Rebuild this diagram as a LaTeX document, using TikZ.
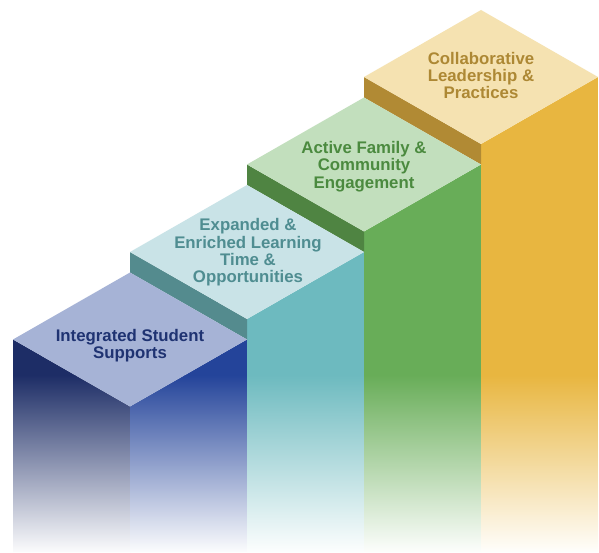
\documentclass[tikz,border=0pt]{standalone}
\usepackage{fontspec}
\setmainfont{Liberation Sans}
\begin{document}
\begin{tikzpicture}[x=1pt,y=-1pt,
  steplabel/.style={align=center,font=\bfseries\fontsize{16.8}{17.4}\selectfont,inner sep=0pt}]
% colours
\definecolor{bluetop}{HTML}{A6B3D6}
\definecolor{blueleft}{HTML}{1D2D66}
\definecolor{blueright}{HTML}{24449A}
\definecolor{bluetext}{HTML}{1F3372}
\definecolor{tealtop}{HTML}{C9E3E7}
\definecolor{tealside}{HTML}{548B8E}
\definecolor{tealright}{HTML}{6DBABF}
\definecolor{tealtext}{HTML}{4F8D91}
\definecolor{greentop}{HTML}{C2DFBD}
\definecolor{greenside}{HTML}{4F8442}
\definecolor{greenright}{HTML}{68AD58}
\definecolor{greentext}{HTML}{4B8A3F}
\definecolor{goldtop}{HTML}{F5E2B1}
\definecolor{goldside}{HTML}{B18A34}
\definecolor{goldright}{HTML}{E8B640}
\definecolor{goldtext}{HTML}{AD8834}
% a column face: solid colour on top, fading to white towards the bottom
\newcommand\fadeface[2]{%
  \begin{scope}
    \clip #2;
    \fill[#1] (0,0) rectangle (599,376);
    \shade[top color=#1,bottom color=white] (0,375) rectangle (599,555);
  \end{scope}}
\useasboundingbox (0,0) rectangle (599,553);
\fill[white] (0,0) rectangle (599,553);
% front faces of the columns
\fadeface{blueleft}{(13,339.5) -- (130,406.5) -- (130,552) -- (13,552) -- cycle}
\fadeface{blueright}{(130,406.5) -- (247,339.5) -- (247,552) -- (130,552) -- cycle}
\fadeface{tealright}{(247,319) -- (364,252) -- (364,552) -- (247,552) -- cycle}
\fadeface{greenright}{(364,231.5) -- (481,164.5) -- (481,552) -- (364,552) -- cycle}
\fadeface{goldright}{(481,144) -- (598,77) -- (598,552) -- (481,552) -- cycle}
% riser strips above each lower step
\fill[tealside]  (130,252) -- (247,319) -- (247,339.5) -- (130,272.5) -- cycle;
\fill[greenside] (247,164.5) -- (364,231.5) -- (364,252) -- (247,185) -- cycle;
\fill[goldside]  (364,77) -- (481,144) -- (481,164.5) -- (364,97.5) -- cycle;
% top faces
\fill[bluetop]  (13,339.5) -- (130,272.5) -- (247,339.5) -- (130,406.5) -- cycle;
\fill[tealtop]  (130,252) -- (247,185) -- (364,252) -- (247,319) -- cycle;
\fill[greentop] (247,164.5) -- (364,97.5) -- (481,164.5) -- (364,231.5) -- cycle;
\fill[goldtop]  (364,77) -- (481,10) -- (598,77) -- (481,144) -- cycle;
% labels
\node[steplabel,text=bluetext]  (s1) at (130,345.5) {Integrated Student\\Supports};
\node[steplabel,text=tealtext]  (s2) at (248,252.5) {Expanded \&\\Enriched Learning\\Time \&\\Opportunities};
\node[steplabel,text=greentext] (s3) at (364,166.5) {Active Family \&\\Community\\Engagement};
\node[steplabel,text=goldtext]  (s4) at (481,75.5) {Collaborative\\Leadership \&\\Practices};
\end{tikzpicture}
\end{document}
